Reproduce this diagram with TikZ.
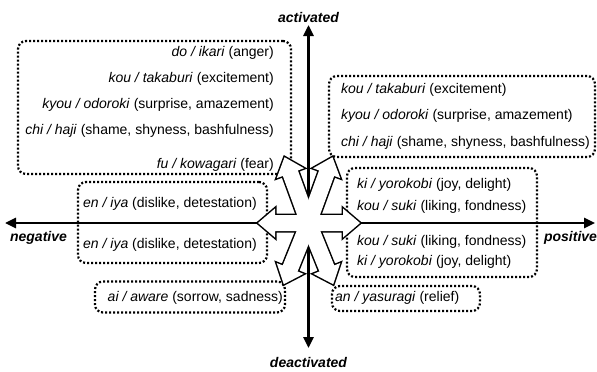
\documentclass[tikz,border=0pt]{standalone}
\usepackage{fontspec}
\setmainfont{Liberation Sans}
\usetikzlibrary{arrows.meta}

\newcommand{\emo}[2]{\textit{#1} (#2)}

\begin{document}
\begin{tikzpicture}[x=1pt,y=-1pt,
    emobox/.style={draw, line width=2.2pt, dash pattern=on 2pt off 2pt, rounded corners=8pt, inner sep=0pt},
    emotext/.style={inner sep=0pt, font=\fontsize{14}{16}\selectfont},
    axislabel/.style={inner sep=0pt, font=\fontsize{14}{16}\selectfont\bfseries\itshape},
    axisline/.style={line width=2.6pt, {Triangle[length=11pt,width=10pt]}-{Triangle[length=11pt,width=10pt]}}
  ]
  \useasboundingbox (0,0) rectangle (597,372);

  % dotted groups
  \node[emobox, minimum width=273pt, minimum height=133pt] (actneg) at (154.5,107.5) {};
  \node[emobox, minimum width=266pt, minimum height=81pt] (actpos) at (462,116.5) {};
  \node[emobox, minimum width=189pt, minimum height=81pt] (neg) at (172.5,222.5) {};
  \node[emobox, minimum width=190pt, minimum height=109pt] (pos) at (442,222.5) {};
  \node[emobox, minimum width=190pt, minimum height=31pt] (deactneg) at (190,297) {};
  \node[emobox, minimum width=148pt, minimum height=25pt] (deactpos) at (406,298.5) {};

  % upper left
  \node[emotext, anchor=east] (ikari) at (274,53) {\emo{do / ikari}{anger}};
  \node[emotext, anchor=east] (takaburi) at (274,79) {\emo{kou / takaburi}{excitement}};
  \node[emotext, anchor=east] (odoroki) at (274,105) {\emo{kyou / odoroki}{surprise, amazement}};
  \node[emotext, anchor=east] (haji) at (274,131) {\emo{chi / haji}{shame, shyness, bashfulness}};
  \node[emotext, anchor=east] (kowagari) at (274,165) {\emo{fu / kowagari}{fear}};

  % upper right
  \node[emotext, anchor=west] (takaburi2) at (341,90) {\emo{kou / takaburi}{excitement}};
  \node[emotext, anchor=west] (odoroki2) at (341,116) {\emo{kyou / odoroki}{surprise, amazement}};
  \node[emotext, anchor=west] (haji2) at (341,143) {\emo{chi / haji}{shame, shyness, bashfulness}};

  % negative
  \node[emotext, anchor=west] (iya) at (83,204) {\emo{en / iya}{dislike, detestation}};
  \node[emotext, anchor=west] (iya2) at (83,245) {\emo{en / iya}{dislike, detestation}};

  % positive
  \node[emotext, anchor=west] (yorokobi) at (357,185) {\emo{ki / yorokobi}{joy, delight}};
  \node[emotext, anchor=west] (suki) at (357,207) {\emo{kou / suki}{liking, fondness}};
  \node[emotext, anchor=west] (suki2) at (357,242) {\emo{kou / suki}{liking, fondness}};
  \node[emotext, anchor=west] (yorokobi2) at (357,262) {\emo{ki / yorokobi}{joy, delight}};

  % lower
  \node[emotext, anchor=east] (aware) at (283,298) {\emo{ai / aware}{sorrow, sadness}};
  \node[emotext, anchor=west] (yasuragi) at (335,298) {\emo{an / yasuragi}{relief}};

  % axes
  \node[axislabel] (activated) at (308.5,17) {activated};
  \node[axislabel] (deactivated) at (308.5,362) {deactivated};
  \node[axislabel] (negative) at (38.5,238) {negative};
  \node[axislabel] (positive) at (570.5,238) {positive};
  \coordinate (negend) at (5,223);
  \coordinate (posend) at (595,223);
  \coordinate (actend) at (308.5,25);
  \coordinate (deactend) at (308.5,348);
  \draw[axisline] (negend) -- (posend);
  \draw[axisline] (deactend) -- (actend);

  % star of block arrows
  \coordinate (hub) at (308.5,223);
  \foreach \ang/\len in {180/50.5, 0/51.5, 110/70, 70/70, 248/66, 292/66} {
    \begin{scope}[shift={(hub)}, rotate=\ang]
      \draw[line width=3pt] (0,-8) -- (\len-17,-8) -- (\len-17,-14.5) -- (\len,0) -- (\len-17,14.5) -- (\len-17,8) -- (0,8) -- cycle;
    \end{scope}
  }
  \foreach \ang/\len in {180/50.5, 0/51.5, 110/70, 70/70, 248/66, 292/66} {
    \begin{scope}[shift={(hub)}, rotate=\ang]
      \fill[white] (0,-8) -- (\len-17,-8) -- (\len-17,-14.5) -- (\len,0) -- (\len-17,14.5) -- (\len-17,8) -- (0,8) -- cycle;
    \end{scope}
  }
\end{tikzpicture}
\end{document}
